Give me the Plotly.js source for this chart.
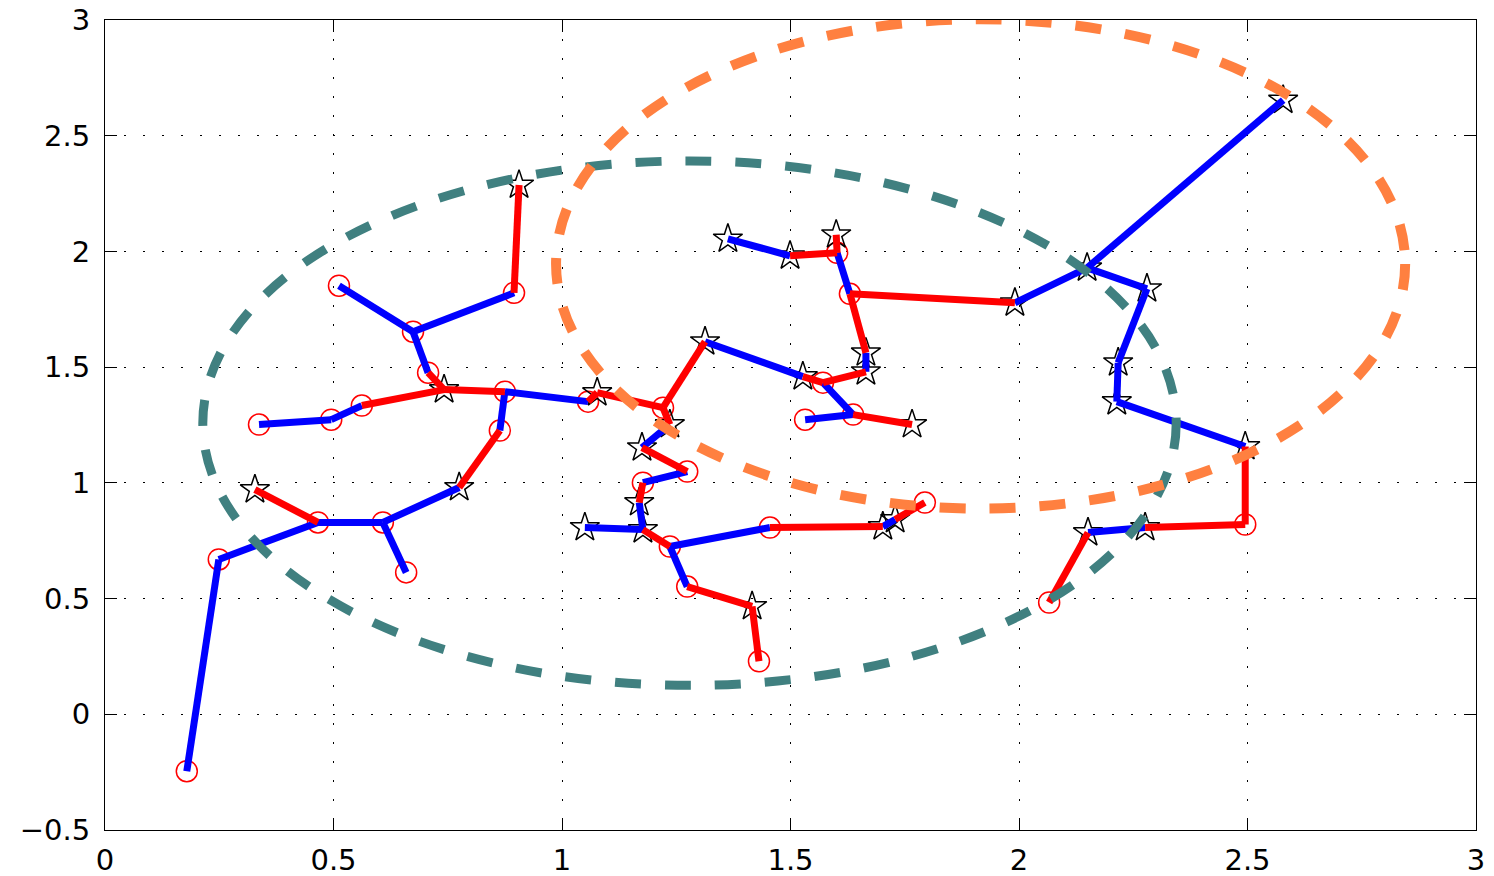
<!DOCTYPE html>
<html>
<head>
<meta charset="utf-8">
<script src="https://cdn.plot.ly/plotly-3.0.1.min.js"></script>
<style>html,body{margin:0;padding:0;background:#fff;}#chart{width:1494px;height:876px;}</style>
</head>
<body>
<div id="chart"></div>
<script>
// Node positions (x, y) and marker type: 'o' = red circle, 's' = black star
const nodeX = [0.179,0.249,0.466,0.608,0.659,0.775,0.328,0.864,0.875,1.057,
               1.077,0.742,0.562,0.495,0.337,0.707,0.674,0.512,0.895,0.906,
               1.221,1.313,1.236,1.175,1.527,1.571,1.665,1.665,1.630,1.991,
               1.602,1.600,1.499,1.363,1.637,1.766,1.532,1.274,1.177,1.169,
               1.177,1.050,1.236,1.455,1.702,1.729,1.794,1.274,1.416,1.431,
               2.149,2.578,2.280,2.217,2.214,2.495,2.495,2.276,2.151,2.066];
const nodeY = [-0.246,0.669,0.829,0.829,0.613,0.980,0.971,1.226,1.394,1.351,
               1.390,1.403,1.334,1.273,1.252,1.476,1.653,1.852,1.821,2.287,
               1.325,1.610,1.252,1.152,1.459,1.433,1.480,1.562,1.817,1.778,
               1.994,2.072,1.981,2.054,1.295,1.252,1.273,1.049,1.001,0.915,
               0.798,0.807,0.725,0.807,0.811,0.842,0.915,0.552,0.466,0.229,
               1.929,2.654,1.839,1.519,1.351,1.157,0.820,0.807,0.785,0.483];
const nodeType = ['o','o','o','o','o','s','s','o','o','o',
                  's','s','o','o','o','o','o','o','o','s',
                  'o','s','s','s','s','o','s','s','o','s',
                  'o','s','s','s','o','s','o','o','o','s',
                  's','s','o','o','s','s','o','o','s','o',
                  's','s','s','s','s','s','o','s','s','o'];

// Edges (node index pairs)
const blueFrom = [0,1,2,3,3,7,8,13,13,15,16,16,22,21,26,28,32,25,34,37,39,40,42,44,42,29,50,50,52,53,54,57];
const blueTo   = [1,2,3,4,5,8,9,12,14,16,17,18,23,24,27,30,33,34,36,38,40,41,43,45,47,50,51,52,53,54,55,58];
const redFrom  = [6,5,8,11,11,18,9,10,20,20,24,25,27,28,32,30,34,23,38,40,43,45,47,48,55,56,58];
const redTo    = [2,7,11,12,15,19,10,20,21,22,25,26,28,29,30,31,35,37,39,42,44,46,48,49,56,57,59];

// Dashed ellipses: center and semi-axes
const ellipseNames = ['teal','orange'];
const ellipseCx = [1.279, 1.916];
const ellipseCy = [1.258, 1.946];
const ellipseRx = [1.065, 0.929];
const ellipseRy = [1.133, 1.057];
const ellipseColors = ['#408080', '#FF8040'];
const ellipseWidths = [9, 10];

function edgeTrace(from, to, color) {
  const x = [], y = [];
  for (let i = 0; i < from.length; i++) {
    x.push(nodeX[from[i]], nodeX[to[i]], null);
    y.push(nodeY[from[i]], nodeY[to[i]], null);
  }
  return {x, y, type:'scatter', mode:'lines', line:{color, width:7}, hoverinfo:'skip', showlegend:false};
}

const circX = [], circY = [], starX = [], starY = [];
nodeType.forEach((t, i) => {
  if (t === 'o') { circX.push(nodeX[i]); circY.push(nodeY[i]); }
  else { starX.push(nodeX[i]); starY.push(nodeY[i]); }
});

const traces = [
  {x:circX, y:circY, type:'scatter', mode:'markers',
   marker:{symbol:'circle-open', size:21, color:'#FF0000', line:{width:1.5, color:'#FF0000'}}, showlegend:false},
  {x:starX, y:starY, type:'scatter', mode:'markers',
   marker:{symbol:'star-open', size:22, color:'#000000', line:{width:1.5, color:'#000000'}}, showlegend:false},
  edgeTrace(blueFrom, blueTo, '#0000FF'),
  edgeTrace(redFrom, redTo, '#FF0000')
];

const shapes = ellipseNames.map((n, i) => ({
  type:'circle', xref:'x', yref:'y', layer:'above',
  x0: ellipseCx[i] - ellipseRx[i], x1: ellipseCx[i] + ellipseRx[i],
  y0: ellipseCy[i] - ellipseRy[i], y1: ellipseCy[i] + ellipseRy[i],
  line:{color: ellipseColors[i], width: ellipseWidths[i], dash:'26px,24px'}
}));

const axisCommon = {
  showline:true, linecolor:'#000', linewidth:1, mirror:'ticks',
  ticks:'inside', ticklen:12, tickwidth:1, tickcolor:'#000',
  showgrid:true, gridcolor:'#000', gridwidth:1, griddash:'1.5px,17.5px',
  zeroline:false, dtick:0.5,
  tickfont:{family:'DejaVu Sans, Arial, sans-serif', size:29, color:'#000'}
};

const layout = {
  width:1494, height:876,
  margin:{l:105, r:18, t:20, b:46},
  paper_bgcolor:'#fff', plot_bgcolor:'#fff',
  xaxis: Object.assign({}, axisCommon, {range:[0,3], tick0:0, ticklabelstandoff:4}),
  yaxis: Object.assign({}, axisCommon, {range:[-0.5,3], tick0:-0.5, ticklabelstandoff:8}),
  shapes: shapes,
  showlegend:false
};

Plotly.newPlot('chart', traces, layout, {displayModeBar:false, staticPlot:true});
</script>
</body>
</html>
